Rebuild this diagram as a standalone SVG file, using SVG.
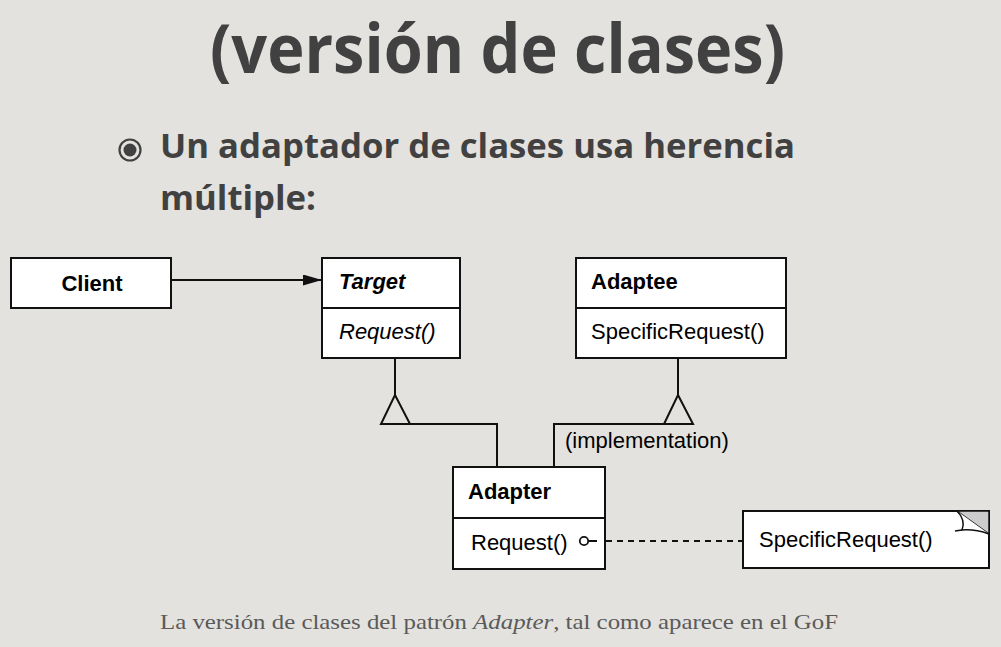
<svg xmlns="http://www.w3.org/2000/svg" width="1001" height="647" viewBox="0 0 1001 647">
  <style>
    .box { fill: #ffffff; stroke: #111111; stroke-width: 2; }
    .line { fill: none; stroke: #111111; stroke-width: 2; }
    .dash { fill: none; stroke: #111111; stroke-width: 2; stroke-dasharray: 6 5; }
    .uml { font-family: "Liberation Sans", Arial, sans-serif; font-size: 22px; fill: #000000; }
    .b { font-weight: bold; }
    .i { font-style: italic; }
    .head { font-family: "Open Sans", "Liberation Sans", sans-serif; font-weight: 700; fill: #414141; }
    .caption { font-family: "Liberation Serif", "Times New Roman", serif; font-size: 22px; fill: #5a5a5a; }
  </style>
  <defs>
    <marker id="arrow" markerWidth="20" markerHeight="12" refX="19" refY="5.5" orient="auto" markerUnits="userSpaceOnUse">
      <path d="M0,0 L19,5.5 L0,11 Z" fill="#111111"/>
    </marker>
  </defs>

  <!-- slide background -->
  <rect x="0" y="0" width="1001" height="647" fill="#e3e2de"/>

  <!-- slide heading -->
  <text class="head" x="210" y="73" font-size="68" textLength="575" lengthAdjust="spacingAndGlyphs">(versión de clases)</text>

  <!-- bullet point -->
  <g id="bullet">
    <circle cx="130" cy="150" r="10.5" fill="none" stroke="#414141" stroke-width="2.2"/>
    <circle cx="130" cy="150" r="6.5" fill="#414141"/>
    <text class="head" x="160" y="158" font-size="34" textLength="635" lengthAdjust="spacingAndGlyphs">Un adaptador de clases usa herencia</text>
    <text class="head" x="160" y="210" font-size="34" textLength="156" lengthAdjust="spacingAndGlyphs">múltiple:</text>
  </g>

  <!-- Client -->
  <g id="client">
    <rect class="box" x="11" y="258" width="160" height="50"/>
    <text class="uml b" x="92" y="291" text-anchor="middle">Client</text>
  </g>

  <!-- Target -->
  <g id="target">
    <rect class="box" x="322" y="258" width="138" height="100"/>
    <line class="line" x1="322" y1="308" x2="460" y2="308"/>
    <text class="uml b i" x="339" y="289">Target</text>
    <text class="uml i" x="339" y="339">Request()</text>
  </g>

  <!-- Adaptee -->
  <g id="adaptee">
    <rect class="box" x="576" y="258" width="210" height="100"/>
    <line class="line" x1="576" y1="308" x2="786" y2="308"/>
    <text class="uml b" x="591" y="289">Adaptee</text>
    <text class="uml" x="591" y="339">SpecificRequest()</text>
  </g>

  <!-- Adapter -->
  <g id="adapter">
    <rect class="box" x="453" y="467" width="152" height="102"/>
    <line class="line" x1="453" y1="518" x2="605" y2="518"/>
    <text class="uml b" x="468" y="499">Adapter</text>
    <text class="uml" x="471" y="550">Request()</text>
  </g>

  <!-- Note -->
  <g id="note">
    <rect class="box" x="743" y="511" width="246" height="57"/>
    <path d="M957,511 L989,511 L989,534 Z" fill="#cccccc" stroke="#111111" stroke-width="1.5"/>
    <path d="M957,511 Q966,520 962,530 Q975,529 989,534" fill="#ffffff" stroke="#111111" stroke-width="1.5"/>
    <path d="M962,530 L955,531" fill="none" stroke="#111111" stroke-width="1.5"/>
    <text class="uml" x="759" y="547">SpecificRequest()</text>
  </g>

  <!-- connectors -->
  <g id="connectors">
    <!-- Client uses Target -->
    <line class="line" x1="171" y1="280" x2="322" y2="280" marker-end="url(#arrow)"/>
    <!-- Adapter inherits Target -->
    <polyline class="line" points="395,358 395,395"/>
    <polyline class="line" points="410,424 497,424 497,467"/>
    <polygon class="line" points="395,395 410,424 381,424" fill="#ffffff"/>
    <!-- Adapter inherits Adaptee (implementation) -->
    <polyline class="line" points="678,358 678,395"/>
    <polyline class="line" points="664,424 554,424 554,467"/>
    <polygon class="line" points="678,395 693,424 664,424" fill="#ffffff"/>
    <text class="uml" x="565" y="448">(implementation)</text>
    <!-- Request() note link -->
    <circle cx="584" cy="541" r="4.2" fill="#ffffff" stroke="#111111" stroke-width="1.8"/>
    <line class="line" x1="589" y1="541" x2="597" y2="541"/>
    <line class="dash" x1="606" y1="541" x2="743" y2="541"/>
  </g>

  <!-- caption -->
  <text class="caption" x="160" y="629" textLength="678" lengthAdjust="spacingAndGlyphs">La versión de clases del patrón <tspan font-style="italic">Adapter</tspan>, tal como aparece en el GoF</text>
</svg>
